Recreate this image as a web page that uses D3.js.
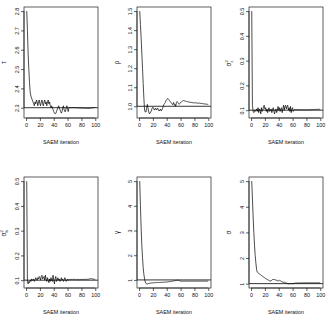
<!DOCTYPE html>
<html>
<head>
<meta charset="utf-8">
<script src="https://cdn.jsdelivr.net/npm/d3@7"></script>
<style>
body { margin: 0; background: #fff; }
text { font-family: "Liberation Sans", Arial, sans-serif; fill: #111; }
</style>
</head>
<body>
<div id="chart"></div>
<script>
// SAEM estimates per iteration (1..100)
const tauValues = [2.80,2.70,2.58,2.50,2.43,2.38,2.36,2.35,2.34,2.33,
  2.32,2.31,2.33,2.32,2.34,2.33,2.31,2.33,2.34,2.32,
  2.31,2.33,2.34,2.32,2.31,2.33,2.34,2.32,2.33,2.31,
  2.33,2.34,2.32,2.33,2.31,2.30,2.31,2.30,2.29,2.28,
  2.272,2.268,2.27,2.28,2.29,2.30,2.31,2.30,2.29,2.28,
  2.272,2.28,2.30,2.31,2.29,2.28,2.28,2.30,2.31,2.29,
  2.28,2.30,2.301,2.300,2.301,2.300,2.300,2.301,2.300,2.300,
  2.300,2.299,2.300,2.299,2.299,2.299,2.298,2.299,2.298,2.298,
  2.298,2.297,2.298,2.297,2.297,2.297,2.296,2.297,2.297,2.296,
  2.297,2.297,2.298,2.298,2.299,2.299,2.300,2.300,2.301,2.301];
const rhoValues = [1.50,1.43,1.36,1.28,1.20,1.12,1.04,0.98,0.97,0.97,
  0.99,1.01,0.99,0.97,0.96,0.965,0.97,0.98,0.99,0.995,
  0.99,0.98,0.985,0.99,0.98,0.985,0.99,0.98,0.975,0.98,
  0.985,0.975,0.98,0.99,1.00,1.01,1.015,1.02,1.03,1.035,
  1.04,1.04,1.035,1.03,1.025,1.02,1.015,1.01,1.01,1.02,
  1.005,1.01,1.00,1.02,1.025,1.02,1.015,1.01,1.015,1.02,
  1.022,1.025,1.028,1.03,1.03,1.028,1.027,1.026,1.025,1.024,
  1.023,1.022,1.022,1.021,1.02,1.02,1.019,1.019,1.018,1.018,
  1.019,1.018,1.017,1.017,1.016,1.016,1.017,1.016,1.015,1.015,
  1.014,1.014,1.013,1.013,1.012,1.012,1.011,1.011,1.01,1.01];
const sigEpsValues = [0.50,0.12,0.095,0.09,0.10,0.095,0.10,0.105,0.095,0.11,
  0.09,0.105,0.10,0.085,0.11,0.095,0.10,0.115,0.12,0.105,
  0.11,0.095,0.105,0.09,0.10,0.11,0.095,0.10,0.105,0.09,
  0.10,0.11,0.095,0.085,0.10,0.105,0.09,0.10,0.115,0.10,
  0.11,0.095,0.105,0.11,0.09,0.105,0.12,0.10,0.115,0.12,
  0.105,0.115,0.12,0.10,0.11,0.095,0.115,0.09,0.105,0.11,
  0.095,0.10,0.103,0.102,0.103,0.102,0.102,0.103,0.102,0.102,
  0.102,0.101,0.102,0.102,0.101,0.102,0.102,0.101,0.101,0.102,
  0.102,0.101,0.102,0.102,0.102,0.103,0.102,0.102,0.103,0.103,
  0.103,0.102,0.103,0.103,0.103,0.104,0.103,0.103,0.104,0.104];
const sigBValues = [0.50,0.09,0.085,0.095,0.09,0.10,0.095,0.105,0.10,0.10,
  0.105,0.095,0.10,0.11,0.105,0.10,0.11,0.105,0.115,0.11,
  0.10,0.115,0.12,0.105,0.11,0.115,0.10,0.12,0.105,0.095,
  0.11,0.10,0.09,0.105,0.095,0.11,0.10,0.095,0.12,0.10,
  0.085,0.105,0.115,0.095,0.10,0.11,0.10,0.105,0.095,0.10,
  0.11,0.10,0.105,0.095,0.10,0.11,0.105,0.095,0.10,0.105,
  0.10,0.102,0.103,0.103,0.102,0.103,0.103,0.104,0.103,0.103,
  0.103,0.103,0.102,0.103,0.103,0.103,0.102,0.103,0.103,0.103,
  0.103,0.103,0.103,0.103,0.104,0.103,0.103,0.103,0.104,0.104,
  0.104,0.105,0.106,0.106,0.106,0.105,0.104,0.104,0.104,0.104];
const gammaValues = [5.00,4.00,3.10,2.40,1.90,1.50,1.22,1.04,0.92,0.86,
  0.84,0.84,0.85,0.86,0.86,0.87,0.87,0.88,0.88,0.88,
  0.885,0.89,0.89,0.89,0.895,0.89,0.895,0.90,0.895,0.90,
  0.90,0.905,0.90,0.905,0.91,0.905,0.91,0.91,0.915,0.92,
  0.92,0.925,0.93,0.93,0.935,0.94,0.945,0.95,0.955,0.96,
  0.965,0.97,0.975,0.98,0.985,0.99,0.985,0.975,0.96,0.955,
  0.95,0.95,0.948,0.95,0.952,0.95,0.948,0.95,0.95,0.952,
  0.95,0.95,0.948,0.95,0.95,0.951,0.95,0.95,0.949,0.95,
  0.95,0.951,0.95,0.95,0.95,0.949,0.95,0.95,0.951,0.95,
  0.95,0.95,0.951,0.95,0.95,0.95,0.951,0.951,0.95,0.95];
const alphaValues = [5.00,4.30,3.60,3.00,2.50,2.10,1.80,1.55,1.45,1.42,
  1.40,1.38,1.36,1.34,1.32,1.30,1.28,1.26,1.24,1.22,
  1.20,1.18,1.17,1.15,1.14,1.12,1.11,1.10,1.11,1.14,
  1.16,1.15,1.17,1.16,1.14,1.15,1.13,1.12,1.10,1.11,
  1.13,1.12,1.10,1.08,1.07,1.06,1.05,1.06,1.04,1.03,
  1.02,1.01,1.00,0.99,1.00,0.99,1.00,1.01,1.00,0.99,
  1.00,1.01,1.02,1.02,1.02,1.03,1.02,1.02,1.03,1.03,
  1.02,1.03,1.03,1.03,1.02,1.03,1.03,1.03,1.03,1.03,
  1.03,1.03,1.03,1.03,1.03,1.03,1.03,1.03,1.03,1.03,
  1.03,1.03,1.03,1.03,1.03,1.03,1.03,1.03,1.03,1.03];

const trueValues = [2.3, 1.0, 0.1, 0.1, 1, 1];
const xTicks = [0, 20, 40, 60, 80, 100];
const tauTicks = [2.3, 2.4, 2.5, 2.6, 2.7, 2.8];
const rhoTicks = [1.0, 1.1, 1.2, 1.3, 1.4, 1.5];
const varTicks = [0.1, 0.2, 0.3, 0.4, 0.5];
const unitTicks = [1, 2, 3, 4, 5];
const labels = [
  {base: "τ"}, {base: "ρ"},
  {base: "σ", sup: "2", sub: "ε"}, {base: "σ", sup: "2", sub: "b"},
  {base: "γ"}, {base: "σ"}
];
const xTitle = "SAEM iteration";

const panels = [
  {values: tauValues, ticks: tauTicks, fmt: d3.format(".1f")},
  {values: rhoValues, ticks: rhoTicks, fmt: d3.format(".1f")},
  {values: sigEpsValues, ticks: varTicks, fmt: d3.format(".1f")},
  {values: sigBValues, ticks: varTicks, fmt: d3.format(".1f")},
  {values: gammaValues, ticks: unitTicks, fmt: d3.format("d")},
  {values: alphaValues, ticks: unitTicks, fmt: d3.format("d")}
];

const W = 330, H = 323,
    colLeft = [24, 137, 249],
    rowTop = [7, 177],
    pw = 74, ph = 111,
    fs = 5.4,
    ink = "#1a1a1a";

const svg = d3.select("#chart").append("svg")
    .attr("width", W)
    .attr("height", H);

svg.append("rect").attr("width", W).attr("height", H).attr("fill", "#fff");

panels.forEach(function(p, k) {
    const left = colLeft[k % 3], top = rowTop[Math.floor(k / 3)];
    const g = svg.append("g").attr("transform", "translate(" + left + "," + top + ")");

    // R style 4% padding on both axes
    const n = p.values.length;
    const xpad = 0.04 * (n - 1);
    const x = d3.scaleLinear().domain([1 - xpad, n + xpad]).range([0, pw]);
    const ext = d3.extent(p.values);
    const ypad = 0.04 * (ext[1] - ext[0]);
    const y = d3.scaleLinear().domain([ext[0] - ypad, ext[1] + ypad]).range([ph, 0]);

    // reference line at the true value
    g.append("line")
        .attr("x1", 0).attr("x2", pw)
        .attr("y1", y(trueValues[k])).attr("y2", y(trueValues[k]))
        .attr("stroke", "#000").attr("stroke-width", 0.8);

    g.append("path")
        .datum(p.values)
        .attr("fill", "none")
        .attr("stroke", "#000")
        .attr("stroke-width", 0.7)
        .attr("d", d3.line().x((d, i) => x(i + 1)).y(d => y(d)));

    g.append("rect")
        .attr("width", pw).attr("height", ph)
        .attr("fill", "none").attr("stroke", ink).attr("stroke-width", 0.7);

    // x axis
    const xa = g.append("g").attr("transform", "translate(0," + ph + ")")
        .call(d3.axisBottom(x).tickValues(xTicks).tickSize(3).tickPadding(2));
    xa.select(".domain").attr("d", "M" + x(xTicks[0]) + ",0H" + x(xTicks[xTicks.length - 1]))
        .attr("stroke", ink).attr("stroke-width", 0.7);
    xa.selectAll(".tick line").attr("stroke", ink).attr("stroke-width", 0.7);
    xa.selectAll("text").attr("font-size", fs).attr("fill", ink);

    // y axis, labels parallel to the axis
    const ya = g.append("g").call(d3.axisLeft(y).tickValues(p.ticks).tickSize(3).tickFormat(p.fmt));
    ya.select(".domain").attr("d", "M0," + y(p.ticks[0]) + "V" + y(p.ticks[p.ticks.length - 1]))
        .attr("stroke", ink).attr("stroke-width", 0.7);
    ya.selectAll(".tick line").attr("stroke", ink).attr("stroke-width", 0.7);
    ya.selectAll("text")
        .attr("font-size", fs)
        .attr("fill", ink)
        .attr("x", null).attr("dy", null)
        .attr("transform", "translate(-5,0) rotate(-90)")
        .attr("text-anchor", "middle");

    g.append("text")
        .attr("x", pw / 2).attr("y", ph + 26)
        .attr("text-anchor", "middle")
        .attr("font-size", fs)
        .attr("fill", ink)
        .text(xTitle);

    // parameter label
    const lab = labels[k];
    const lg = g.append("g").attr("transform", "translate(-18," + (ph / 2) + ") rotate(-90)");
    const bw = lab.sup ? 2 : 0;
    lg.append("text").attr("x", -bw).attr("y", 0)
        .attr("text-anchor", "middle").attr("font-size", 6.3).attr("fill", ink).text(lab.base);
    if (lab.sup) {
        lg.append("text").attr("x", -bw + 2).attr("y", -2.6).attr("font-size", 4.2).attr("fill", ink).text(lab.sup);
        lg.append("text").attr("x", -bw + 2).attr("y", 1.8).attr("font-size", 4.2).attr("fill", ink).text(lab.sub);
    }
});
</script>
</body>
</html>
